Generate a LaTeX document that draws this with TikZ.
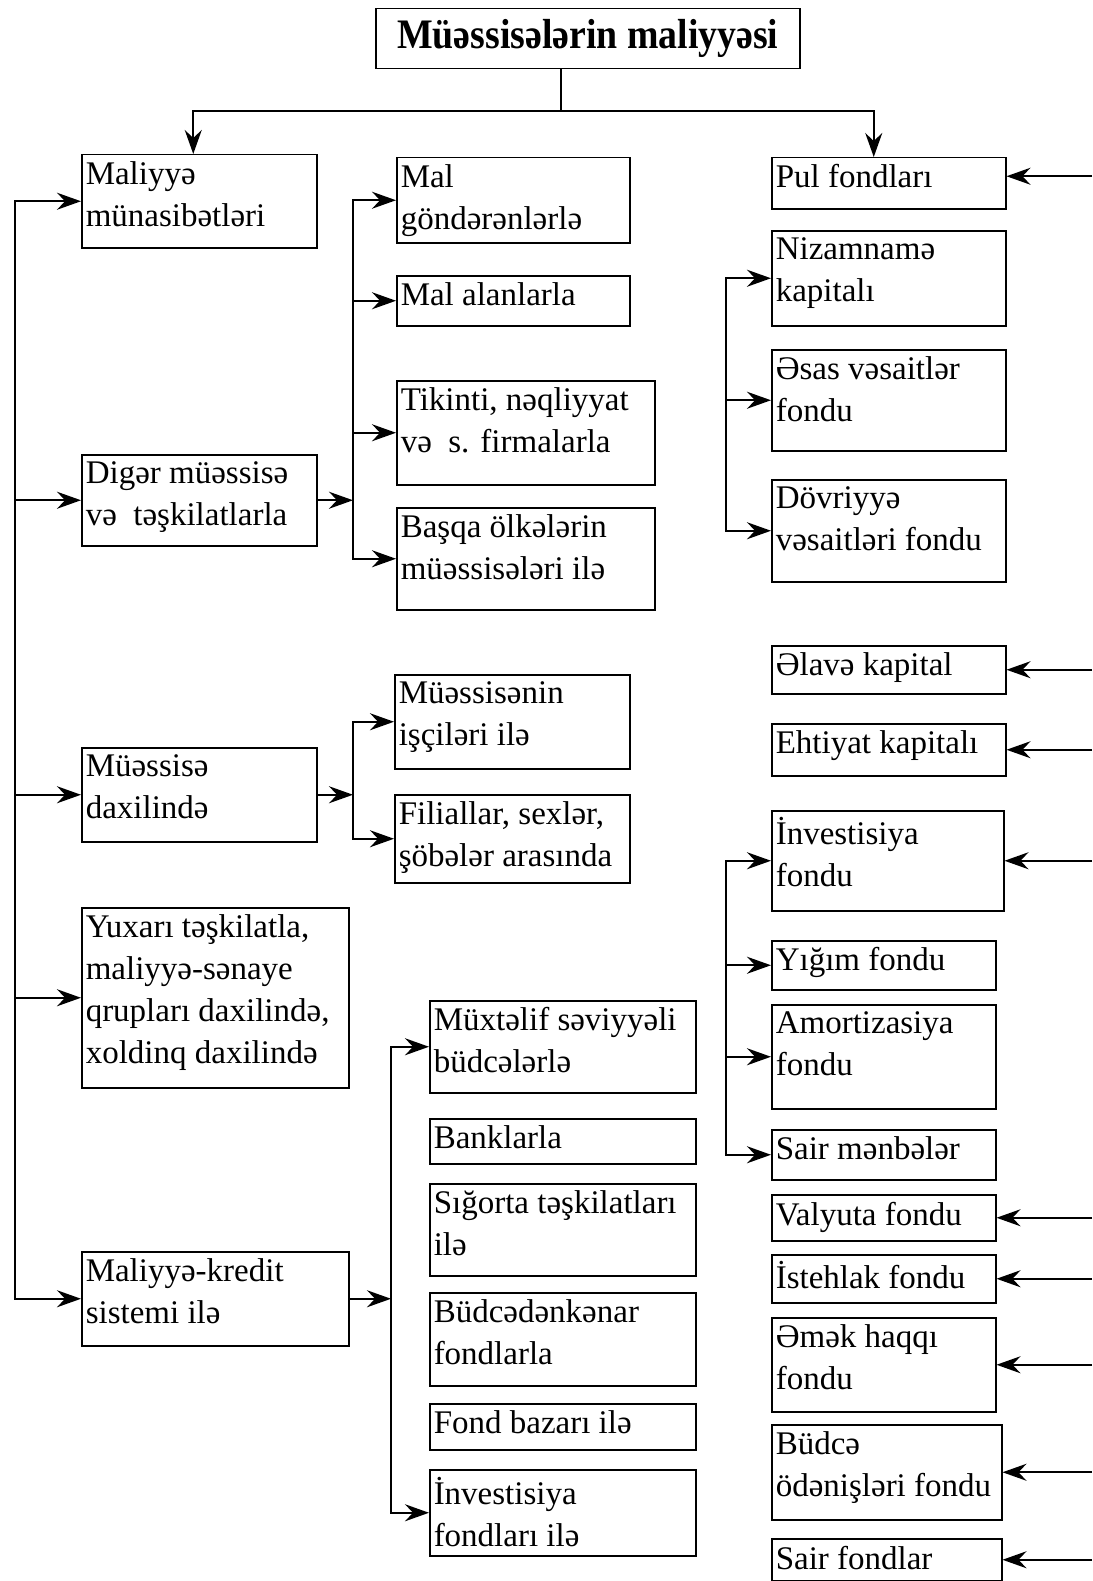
\documentclass[tikz,border=0pt]{standalone}
\usepackage{fontspec}
\setmainfont{Liberation Serif}
\newfontfamily\titlefont{Liberation Serif}[FakeStretch=0.9]
\usetikzlibrary{arrows.meta,calc}

% box with text set at its top left corner: name, x1, y1, x2, y2, text
\newcommand{\fbx}[6]{%
  \pgfmathsetlengthmacro\bw{#4-#2}%
  \pgfmathsetlengthmacro\bh{#5-#3}%
  \node[blk] (#1) at (#2,#3) {\vbox to \bh{\hsize=\bw\relax\raggedright
      \leftskip=4pt\parindent=0pt\vskip 7pt\noindent #6\par\vfil}};}

\begin{document}
\begin{tikzpicture}[x=1pt,y=-1pt,
    blk/.style={draw,line width=1.5pt,inner sep=0pt,anchor=north west,
      font=\fontsize{33}{42}\selectfont},
    ln/.style={line width=1.7pt,line cap=rect},
    arr/.style={-{Stealth[length=24pt,width=17pt,inset=8pt]},line width=1.7pt}]
  \useasboundingbox (0,0) rectangle (1092,1581);

  \node[draw,line width=1.5pt,anchor=north west,minimum width=424pt,minimum height=60pt,
    font=\titlefont\bfseries\fontsize{42}{46}\selectfont] (title) at (375,8) {Müəssisələrin maliyyəsi};

  % left column
  \fbx{A1}{81}{154}{316}{247}{Maliyyə\\münasibətləri}
  \fbx{A2}{81}{454}{316}{545}{Digər müəssisə\\və\ \ təşkilatlarla}
  \fbx{A3}{81}{747}{316}{841}{Müəssisə\\daxilində}
  \fbx{A4}{81}{907}{348}{1087}{Yuxarı təşkilatla,\\maliyyə-sənaye\\qrupları daxilində,\\xoldinq daxilində}
  \fbx{A5}{81}{1251}{348}{1345}{Maliyyə-kredit\\sistemi ilə}

  % middle column
  \fbx{B1}{396}{157}{629}{242}{Mal\\göndərənlərlə}
  \fbx{B2}{396}{275}{629}{325}{Mal alanlarla}
  \fbx{B3}{396}{380}{654}{484}{Tikinti, nəqliyyat\\və\ \ s. firmalarla}
  \fbx{B4}{396}{507}{654}{609}{Başqa ölkələrin\\müəssisələri ilə}
  \fbx{C1}{394}{674}{629}{768}{Müəssisənin\\işçiləri ilə}
  \fbx{C2}{394}{794}{629}{882}{Filiallar, sexlər,\\şöbələr arasında}
  \fbx{D1}{429}{1000}{695}{1092}{Müxtəlif səviyyəli\\büdcələrlə}
  \fbx{D2}{429}{1118}{695}{1163}{Banklarla}
  \fbx{D3}{429}{1183}{695}{1275}{Sığorta təşkilatları\\ilə}
  \fbx{D4}{429}{1292}{695}{1385}{Büdcədənkənar\\fondlarla}
  \fbx{D5}{429}{1403}{695}{1449}{Fond bazarı ilə}
  \fbx{D6}{429}{1469}{695}{1555}{İnvestisiya\\fondları ilə}

  % right column
  \fbx{E1}{771}{157}{1005}{208}{Pul fondları}
  \fbx{E2}{771}{230}{1005}{325}{Nizamnamə\\kapitalı}
  \fbx{E3}{771}{349}{1005}{450}{Əsas vəsaitlər\\fondu}
  \fbx{E4}{771}{479}{1005}{581}{Dövriyyə\\vəsaitləri fondu}
  \fbx{E5}{771}{645}{1005}{693}{Əlavə kapital}
  \fbx{E6}{771}{723}{1005}{775}{Ehtiyat kapitalı}
  \fbx{E7}{771}{810}{1003}{910}{İnvestisiya\\fondu}
  \fbx{E8}{771}{940}{995}{989}{Yığım fondu}
  \fbx{E9}{771}{1004}{995}{1108}{Amortizasiya\\fondu}
  \fbx{E10}{771}{1129}{995}{1179}{Sair mənbələr}
  \fbx{E11}{771}{1194}{995}{1240}{Valyuta fondu}
  \fbx{E12}{771}{1254}{995}{1302}{İstehlak fondu}
  \fbx{E13}{771}{1317}{995}{1411}{Əmək haqqı\\fondu}
  \fbx{E14}{771}{1424}{1001}{1519}{Büdcə\\ödənişləri fondu}
  \fbx{E15}{771}{1538}{1001}{1580}{Sair fondlar}

  % buses
  \coordinate (split) at (561,111);
  \coordinate (lbus) at (15,0);
  \coordinate (bbus) at (353,0);
  \coordinate (dbus) at (391,0);
  \coordinate (fbus) at (726,0);
  \coordinate (redge) at (1092,0);

  \draw[ln] (split |- title.south) -- (split);
  \draw[arr] (split) -| ([xshift=-6pt]A1.north);
  \draw[arr] (split) -| ([xshift=-15pt]E1.north);

  \draw[ln] (lbus |- A1.west) -- (lbus |- A5.west);
  \draw[arr] (lbus |- A1.west) -- (A1.west);
  \draw[arr] (lbus |- A2.west) -- (A2.west);
  \draw[arr] (lbus |- A3.west) -- (A3.west);
  \draw[arr] (lbus |- A4.west) -- (A4.west);
  \draw[arr] (lbus |- A5.west) -- (A5.west);

  \draw[arr] (A2.east) -- (bbus |- A2.east);
  \draw[ln] (bbus |- B1.west) -- (bbus |- B4.west);
  \draw[arr] (bbus |- B1.west) -- (B1.west);
  \draw[arr] (bbus |- B2.west) -- (B2.west);
  \draw[arr] (bbus |- B3.west) -- (B3.west);
  \draw[arr] (bbus |- B4.west) -- (B4.west);

  \draw[arr] (A3.east) -- (bbus |- A3.east);
  \draw[ln] (bbus |- C1.west) -- (bbus |- C2.west);
  \draw[arr] (bbus |- C1.west) -- (C1.west);
  \draw[arr] (bbus |- C2.west) -- (C2.west);

  \draw[arr] (A5.east) -- (dbus |- A5.east);
  \draw[ln] (dbus |- D1.west) -- (dbus |- D6.west);
  \draw[arr] (dbus |- D1.west) -- (D1.west);
  \draw[arr] (dbus |- D6.west) -- (D6.west);

  \draw[ln] (fbus |- E2.west) -- (fbus |- E4.west);
  \draw[arr] (fbus |- E2.west) -- (E2.west);
  \draw[arr] (fbus |- E3.west) -- (E3.west);
  \draw[arr] (fbus |- E4.west) -- (E4.west);
  \draw[ln] (fbus |- E7.west) -- (fbus |- E10.west);
  \draw[arr] (fbus |- E7.west) -- (E7.west);
  \draw[arr] (fbus |- E8.west) -- (E8.west);
  \draw[arr] (fbus |- E9.west) -- (E9.west);
  \draw[arr] (fbus |- E10.west) -- (E10.west);

  % arrows coming in from the right edge
  \draw[arr] ([yshift=7pt]redge |- E1.east) -- ([yshift=7pt]E1.east);
  \draw[arr] (redge |- E5.east) -- (E5.east);
  \draw[arr] (redge |- E6.east) -- (E6.east);
  \draw[arr] (redge |- E7.east) -- (E7.east);
  \draw[arr] (redge |- E11.east) -- (E11.east);
  \draw[arr] (redge |- E12.east) -- (E12.east);
  \draw[arr] (redge |- E13.east) -- (E13.east);
  \draw[arr] (redge |- E14.east) -- (E14.east);
  \draw[arr] (redge |- E15.east) -- (E15.east);
\end{tikzpicture}
\end{document}
